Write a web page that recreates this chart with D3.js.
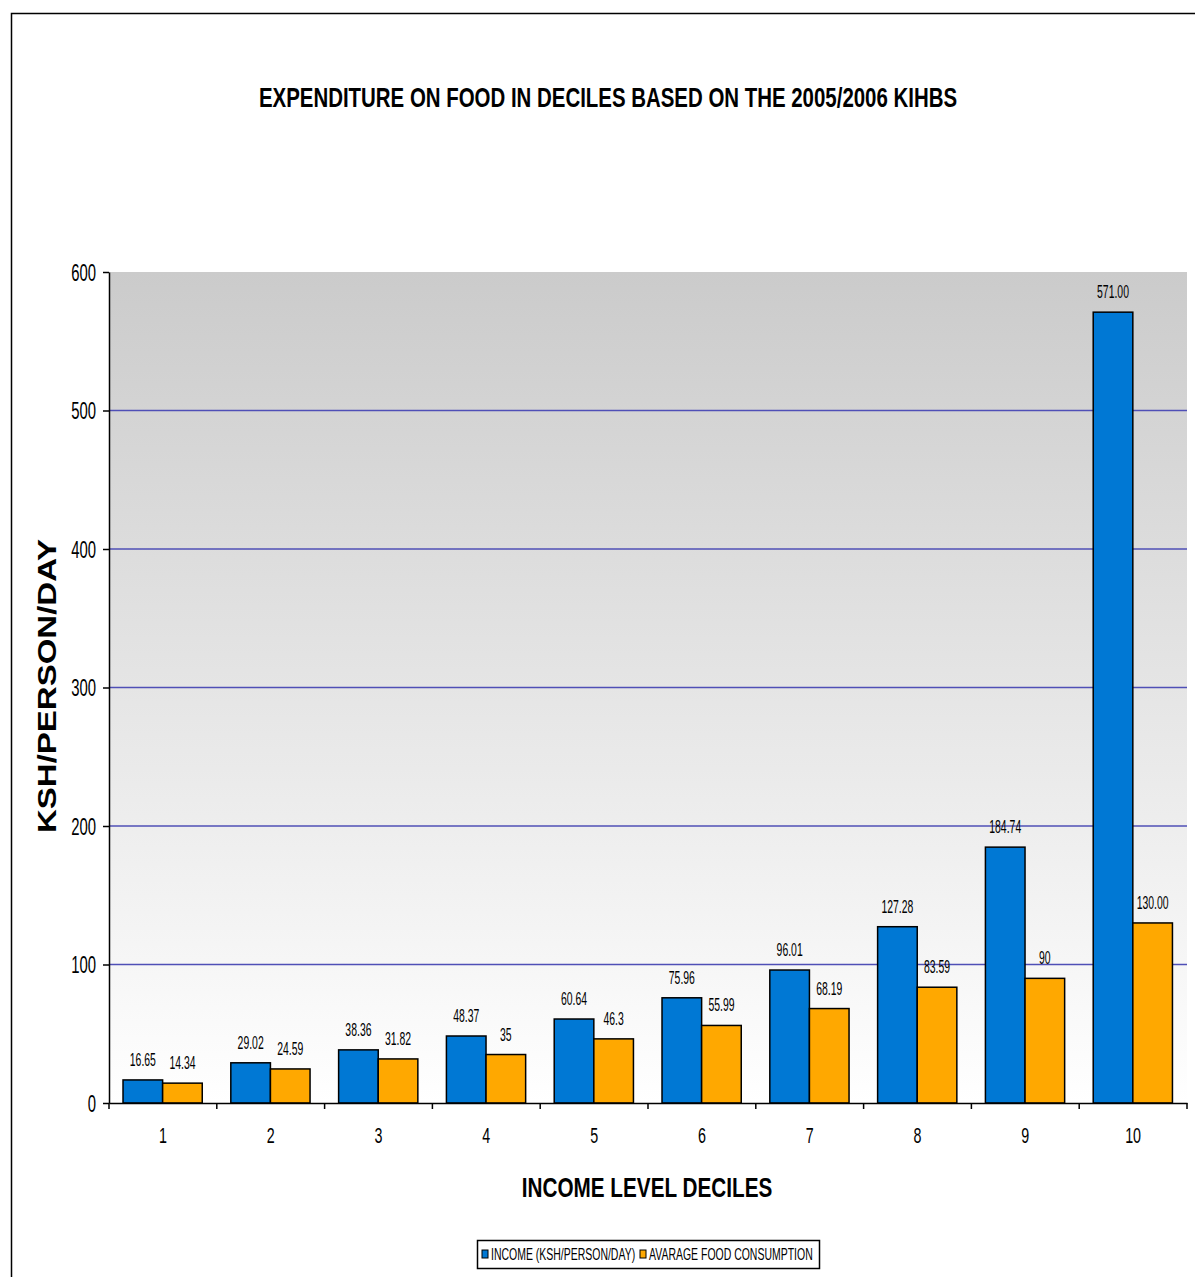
<!DOCTYPE html>
<html><head><meta charset="utf-8">
<script src="https://cdn.jsdelivr.net/npm/d3@7"></script>
<style>
body{margin:0;background:#fff;}
text{font-family:"Liberation Sans",Arial,sans-serif;}
</style></head>
<body>
<svg id="c" width="1195" height="1277"></svg>
<script>
const deciles = ["1","2","3","4","5","6","7","8","9","10"];
const income = [16.65, 29.02, 38.36, 48.37, 60.64, 75.96, 96.01, 127.28, 184.74, 571.00];
const food = [14.34, 24.59, 31.82, 35, 46.3, 55.99, 68.19, 83.59, 90, 130.00];
const incomeLabels = ["16.65","29.02","38.36","48.37","60.64","75.96","96.01","127.28","184.74","571.00"];
const foodLabels = ["14.34","24.59","31.82","35","46.3","55.99","68.19","83.59","90","130.00"];
const seriesNames = ["INCOME (KSH/PERSON/DAY)","AVARAGE FOOD CONSUMPTION"];
const yTicks = [0,100,200,300,400,500,600];
const colors = ["#0078d4","#ffa800"];

const svg = d3.select("#c");
const L = 109, R = 1187, T = 272, B = 1103;

// text drawn with a horizontal squeeze via transform
function ntext(parent, x, y, txt, size, sx, anchor, bold){
  return parent.append("text")
    .attr("transform",`translate(${x},${y}) scale(${sx},1)`)
    .attr("text-anchor",anchor).attr("font-size",size)
    .attr("font-weight",bold?"bold":"normal").attr("fill","#000").text(txt);
}

// outer frame
svg.append("rect").attr("x",11.5).attr("y",13.5).attr("width",1200).attr("height",1300)
  .attr("fill","none").attr("stroke","#000").attr("stroke-width",1.5);

const defs = svg.append("defs");
const g = defs.append("linearGradient").attr("id","bg").attr("x1",0).attr("y1",0).attr("x2",0).attr("y2",1);
g.append("stop").attr("offset","0%").attr("stop-color","#cbcbcb");
g.append("stop").attr("offset","100%").attr("stop-color","#ffffff");

svg.append("rect").attr("x",L).attr("y",T).attr("width",R-L).attr("height",B-T).attr("fill","url(#bg)");

const y = d3.scaleLinear().domain([0,600]).range([B,T]);
const x0 = d3.scaleBand().domain(deciles).range([L,R]).padding(0);
const bw = x0.bandwidth();
const x1 = d3.scaleBand().domain([0,1]).range([bw*0.13, bw*0.865]);

// gridlines
svg.append("g").selectAll("line").data(yTicks.filter(v=>v>0 && v<600)).join("line")
  .attr("x1",L).attr("x2",R).attr("y1",d=>y(d)).attr("y2",d=>y(d))
  .attr("stroke","#4f4fb6").attr("stroke-width",1.5);

// bars
const data = deciles.map((d,i)=>({d, vals:[income[i], food[i]], labs:[incomeLabels[i], foodLabels[i]]}));
const grp = svg.append("g").selectAll("g").data(data).join("g")
  .attr("transform",d=>`translate(${x0(d.d)},0)`);
grp.selectAll("rect").data(d=>d.vals.map((v,k)=>({v,k}))).join("rect")
  .attr("x",d=>x1(d.k)).attr("width",x1.bandwidth())
  .attr("y",d=>y(d.v)).attr("height",d=>B-y(d.v))
  .attr("fill",d=>colors[d.k]).attr("stroke","#000").attr("stroke-width",1.5);
grp.each(function(d){
  const gg = d3.select(this);
  d.vals.forEach((v,k)=>{
    ntext(gg, x1(k)+x1.bandwidth()/2, y(v)-14, d.labs[k], 18, 0.58, "middle", false);
  });
});

// y axis
const ya = svg.append("g").attr("transform",`translate(${L},0)`)
  .call(d3.axisLeft(y).tickValues(yTicks).tickSize(6).tickSizeOuter(0).tickFormat(()=>""));
ya.select(".domain").attr("stroke","#000").attr("stroke-width",1.5);
ya.selectAll(".tick line").attr("stroke","#000").attr("stroke-width",1.5);
yTicks.forEach(v=>{
  ntext(svg, L-13, y(v)+8.5, String(v), 24, 0.62, "end", false);
});

// x axis
const xa = svg.append("g").attr("transform",`translate(0,${B})`)
  .call(d3.axisBottom(x0).tickSize(0).tickFormat(()=>""));
xa.select(".domain").attr("stroke","#000").attr("stroke-width",1.5);
deciles.forEach(d=>{
  ntext(svg, x0(d)+bw/2, B+40, d, 22, 0.65, "middle", false);
});
// category boundary ticks
svg.append("g").selectAll("line").data(deciles.concat(["end"])).join("line")
  .attr("x1",(d,i)=> i<deciles.length ? x0(d) : R).attr("x2",(d,i)=> i<deciles.length ? x0(d) : R)
  .attr("y1",B).attr("y2",B+6).attr("stroke","#000").attr("stroke-width",1.5);

// title
ntext(svg, 608, 107, "EXPENDITURE ON FOOD IN DECILES BASED ON THE 2005/2006 KIHBS", 28, 0.73, "middle", true);
// x title
ntext(svg, 647, 1197, "INCOME LEVEL DECILES", 28, 0.74, "middle", true);
// y title
svg.append("text").attr("transform","translate(56,686) rotate(-90) scale(1.27,1)").attr("text-anchor","middle")
  .attr("font-size",26).attr("font-weight","bold").attr("fill","#000")
  .text("KSH/PERSON/DAY");

// legend
const lg = svg.append("g");
lg.append("rect").attr("x",477.5).attr("y",1240.5).attr("width",342).attr("height",28)
  .attr("fill","#fff").attr("stroke","#000").attr("stroke-width",1.5);
const items = [{x:482, c:colors[0], t:seriesNames[0]},{x:640, c:colors[1], t:seriesNames[1]}];
items.forEach(it=>{
  lg.append("rect").attr("x",it.x).attr("y",1250).attr("width",6).attr("height",8)
    .attr("fill",it.c).attr("stroke","#000").attr("stroke-width",1);
  ntext(lg, it.x+9, 1260, it.t, 16, 0.655, "start", false);
});
</script>
</body></html>
